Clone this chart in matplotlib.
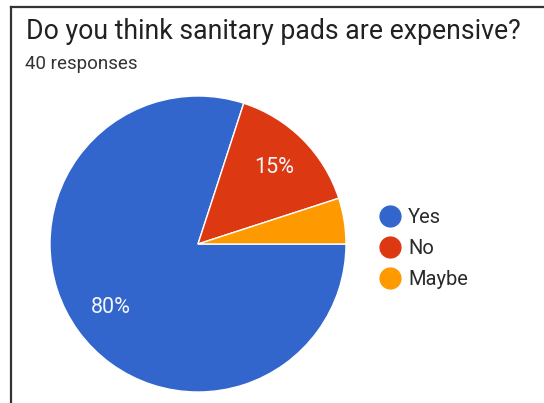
import matplotlib
matplotlib.use("Agg")
import matplotlib.pyplot as plt
from matplotlib.lines import Line2D

plt.rcParams['font.family'] = ['Roboto', 'DejaVu Sans']

title = "Do you think sanitary pads are expensive?"
subtitle = "40 responses"
labels = ["Yes", "No", "Maybe"]
counts = [32, 6, 2]
colors = ["#3366cc", "#dc3912", "#ff9900"]

W, H = 544, 403
fig = plt.figure(figsize=(W / 100, H / 100), dpi=100)

# pie area: centre ~(198, 244) px, radius ~148 px
ax = fig.add_axes([50 / W, 11 / H, 296 / W, 296 / H])


def pct_label(p):
    return "%d%%" % round(p) if p >= 10 else ""


wedges, texts, autotexts = ax.pie(counts, colors=colors, startangle=0,
                                  counterclock=False, autopct=pct_label,
                                  pctdistance=0.73, radius=1.0,
                                  wedgeprops=dict(linewidth=1, edgecolor="white"),
                                  textprops=dict(color="#f4f6fb", fontsize=15.5))
ax.set_xlim(-1, 1)
ax.set_ylim(-1, 1)
ax.set_aspect("equal")
ax.axis("off")

handles = [Line2D([], [], marker="o", linestyle="", markersize=15,
                  markerfacecolor=c, markeredgecolor=c) for c in colors]
fig.legend(handles, labels, loc="upper left",
           bbox_to_anchor=(370 / W, 1 - 200 / H), frameon=False,
           fontsize=14.5, labelcolor="#2a2a2a", handletextpad=0.3,
           labelspacing=0.6, borderaxespad=0, handlelength=1.2)

fig.text(26 / W, 1 - 39 / H, title, fontsize=19.2, color="#202124")
fig.text(25 / W, 1 - 69 / H, subtitle, fontsize=13.5, color="#333333")

# screenshot frame lines
fig.add_artist(Line2D([11 / W, 1], [1 - 7 / H, 1 - 7 / H], color="#333333", lw=1.6))
fig.add_artist(Line2D([11 / W, 11 / W], [0, 1 - 7 / H], color="#333333", lw=1.6))

fig.savefig("out.png", dpi=100)
